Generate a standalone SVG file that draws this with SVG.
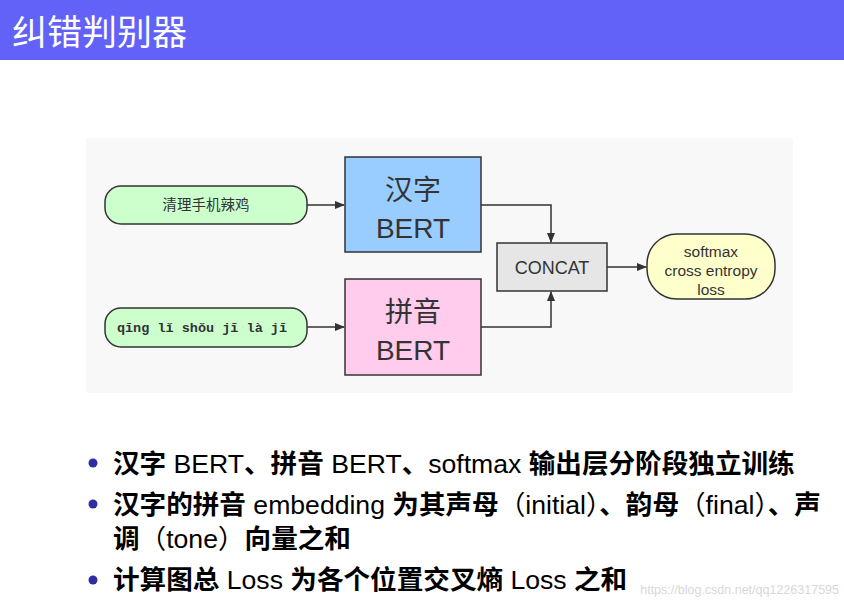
<svg xmlns="http://www.w3.org/2000/svg" width="844" height="607" viewBox="0 0 844 607">
<style>
.cjk{font-family:"Liberation Sans","Noto Sans CJK SC",sans-serif}
.node{stroke:#333;stroke-width:1.5}
.lbl{font-family:"Liberation Sans","Noto Sans CJK SC",sans-serif;fill:#333;text-anchor:middle}
.edge{fill:none;stroke:#333;stroke-width:1.5}
.b{font-weight:bold}
.bl{font-family:"Liberation Sans","Noto Sans CJK SC",sans-serif;font-size:26.6px;fill:#000}
</style>
<defs>
<marker id="ah" markerWidth="10" markerHeight="8" refX="9" refY="4" orient="auto" markerUnits="userSpaceOnUse">
<path d="M0,0 L10,4 L0,8 Z" fill="#333"/>
</marker>
</defs>
<rect width="844" height="607" fill="#fff"/>
<rect x="0" y="0" width="844" height="60" fill="#6262f8"/>
<text x="12" y="45" class="cjk" font-size="35" fill="#fff">纠错判别器</text>
<rect x="86" y="138" width="707" height="255" fill="#f8f8f8"/>
<g id="connectors">
<path class="edge" d="M307,205 H344" marker-end="url(#ah)"/>
<path class="edge" d="M307,327 H344" marker-end="url(#ah)"/>
<path class="edge" d="M481,205 H551 V242" marker-end="url(#ah)"/>
<path class="edge" d="M481,327 H551 V292" marker-end="url(#ah)"/>
<path class="edge" d="M607,267 H646" marker-end="url(#ah)"/>
</g>
<g id="n_text">
<rect class="node" x="105" y="186" width="202" height="38" rx="16" fill="#ccffcc"/>
<text class="lbl" x="206" y="210" font-size="14.5">清理手机辣鸡</text>
</g>
<g id="n_pinyin">
<rect class="node" x="105" y="308" width="202" height="39" rx="16" fill="#ccffcc"/>
<text x="202" y="332" font-family="Liberation Mono,monospace" font-weight="bold" font-size="13.5" fill="#333" text-anchor="middle">qīng lǐ shǒu jī là jī</text>
</g>
<g id="n_hanzi_bert">
<rect class="node" x="345" y="157" width="136" height="95" fill="#99ccff"/>
<text class="lbl" x="413" y="200" font-size="28">汉字</text>
<text class="lbl" x="413" y="238" font-size="28">BERT</text>
</g>
<g id="n_pinyin_bert">
<rect class="node" x="345" y="279" width="136" height="96" fill="#ffccee"/>
<text class="lbl" x="413" y="322" font-size="28">拼音</text>
<text class="lbl" x="413" y="360" font-size="28">BERT</text>
</g>
<g id="n_concat">
<rect class="node" x="497" y="243" width="110" height="48" fill="#e6e6e6"/>
<text class="lbl" x="552" y="274" font-size="18">CONCAT</text>
</g>
<g id="n_loss">
<rect class="node" x="647" y="234" width="128" height="65" rx="30" fill="#ffffcc"/>
<text class="lbl" x="711" y="257" font-size="15.5">softmax</text>
<text class="lbl" x="711" y="276" font-size="15.5">cross entropy</text>
<text class="lbl" x="711" y="295" font-size="15.5">loss</text>
</g>
<g id="bullets">
<circle cx="93" cy="463" r="4.5" fill="#2e2ea0"/>
<circle cx="93" cy="504" r="4.5" fill="#2e2ea0"/>
<circle cx="93" cy="580" r="4.5" fill="#2e2ea0"/>
<text class="bl" x="113" y="473"><tspan class="b">汉字</tspan> BERT<tspan class="b">、拼音</tspan> BERT<tspan class="b">、</tspan>softmax <tspan class="b">输出层分阶段独立训练</tspan></text>
<text class="bl" x="113" y="514"><tspan class="b">汉字的拼音</tspan> embedding <tspan class="b">为其声母</tspan>（initial）<tspan class="b">、韵母</tspan>（final）<tspan class="b">、声</tspan></text>
<text class="bl" x="113" y="548"><tspan class="b">调</tspan>（tone）<tspan class="b">向量之和</tspan></text>
<text class="bl" x="113" y="589"><tspan class="b">计算图总</tspan> Loss <tspan class="b">为各个位置交叉熵</tspan> Loss <tspan class="b">之和</tspan></text>
</g>
<text x="839" y="594" font-family="Liberation Sans,sans-serif" font-size="12.5" fill="#d8d8d8" text-anchor="end">https://blog.csdn.net/qq1226317595</text>
</svg>
